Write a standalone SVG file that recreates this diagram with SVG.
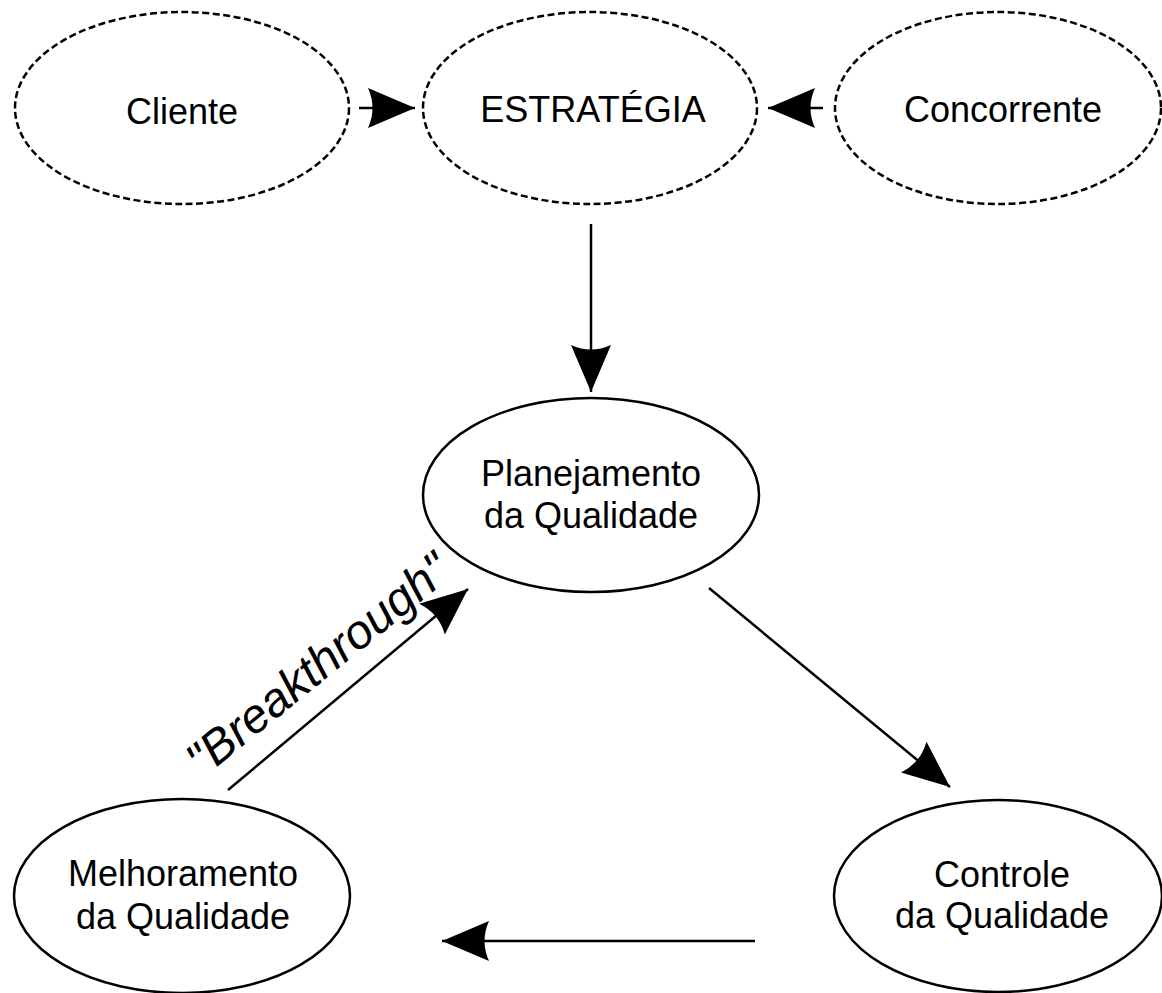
<svg xmlns="http://www.w3.org/2000/svg" width="1162" height="993" viewBox="0 0 1162 993">
<style>
.bg{fill:#ffffff}
.dash{fill:none;stroke:#000;stroke-width:2.5;stroke-dasharray:7 3.5}
.solid{fill:none;stroke:#000;stroke-width:2.5}
.lbl{font-family:"Liberation Sans",Arial,sans-serif;font-size:36px;fill:#000;text-anchor:middle}
.edge{fill:none;stroke:#000;stroke-width:2.5;marker-end:url(#ah)}
.bt{font-family:"Liberation Sans",Arial,sans-serif;font-size:48px;font-style:italic;fill:#000;text-anchor:middle}
</style>
<defs>
<marker id="ah" markerUnits="userSpaceOnUse" markerWidth="48" markerHeight="42" refX="47" refY="20" orient="auto" overflow="visible">
<path d="M47,20 L0,0 Q9,20 0,40 Z" fill="#000"/>
</marker>
</defs>
<rect class="bg" x="0" y="0" width="1162" height="993"/>
<g id="cliente">
<ellipse class="dash" cx="182" cy="108" rx="167" ry="96"/>
<text class="lbl" x="182" y="124">Cliente</text>
</g>
<g id="estrategia">
<ellipse class="dash" cx="590" cy="108" rx="167" ry="96"/>
<text class="lbl" x="593" y="122">ESTRATÉGIA</text>
</g>
<g id="concorrente">
<ellipse class="dash" cx="998" cy="108" rx="163" ry="96"/>
<text class="lbl" x="1003" y="122">Concorrente</text>
</g>
<g id="planejamento">
<ellipse class="solid" cx="591" cy="495" rx="168" ry="97"/>
<text class="lbl" x="591" y="486">Planejamento</text>
<text class="lbl" x="591" y="528">da Qualidade</text>
</g>
<g id="melhoramento">
<ellipse class="solid" cx="182" cy="896" rx="168" ry="97"/>
<text class="lbl" x="183" y="886">Melhoramento</text>
<text class="lbl" x="183" y="929">da Qualidade</text>
</g>
<g id="controle">
<ellipse class="solid" cx="998" cy="896" rx="164" ry="96"/>
<text class="lbl" x="1002" y="887">Controle</text>
<text class="lbl" x="1002" y="928">da Qualidade</text>
</g>
<g id="connectors">
<line class="edge" x1="359" y1="108" x2="415" y2="108"/>
<line class="edge" x1="823" y1="108" x2="768" y2="108"/>
<line class="edge" x1="591" y1="224" x2="591" y2="392"/>
<line class="edge" x1="709" y1="588" x2="950" y2="787"/>
<line class="edge" x1="755" y1="941" x2="442" y2="941"/>
<line class="edge" x1="228" y1="790" x2="468" y2="589"/>
<text class="bt" transform="translate(328,677) rotate(-39)" x="0" y="0">"Breakthrough"</text>
</g>
</svg>
